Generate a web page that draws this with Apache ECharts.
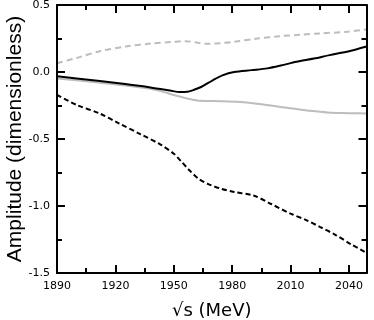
<!DOCTYPE html>
<html><head><meta charset="utf-8">
<script src="https://cdn.jsdelivr.net/npm/echarts@6/dist/echarts.min.js"></script>
<style>html,body{margin:0;padding:0;background:#fff}#c{width:374px;height:320px}</style>
</head><body><div id="c"></div>
<script>
const grayDashX = [1890,1900,1912,1925,1938,1950,1956,1961,1967,1974,1981,1992,2004,2015,2025,2039,2049];
const grayDashY = [0.065,0.105,0.155,0.19,0.212,0.225,0.23,0.222,0.21,0.215,0.226,0.248,0.267,0.278,0.288,0.300,0.318];
const blackSolidX = [1890,1900,1912,1925,1938,1948,1953,1957,1960,1964,1970,1975,1981,1990,1998,2005,2013,2022,2030,2040,2049];
const blackSolidY = [-0.031,-0.048,-0.068,-0.09,-0.115,-0.138,-0.15,-0.148,-0.135,-0.112,-0.062,-0.025,0.0,0.014,0.027,0.048,0.076,0.1,0.126,0.155,0.19];
const graySolidX = [1890,1900,1912,1925,1938,1945,1950,1956,1962,1970,1984,1995,2005,2012,2020,2029,2040,2049];
const graySolidY = [-0.048,-0.062,-0.08,-0.1,-0.125,-0.15,-0.172,-0.195,-0.212,-0.217,-0.223,-0.24,-0.262,-0.275,-0.29,-0.302,-0.307,-0.31];
const blackDashX = [1890,1900,1912,1922,1933,1943,1950,1954,1958,1963,1968,1974,1981,1991,2000,2010,2018,2025,2033,2041,2049];
const blackDashY = [-0.17,-0.245,-0.31,-0.385,-0.465,-0.54,-0.61,-0.67,-0.733,-0.8,-0.838,-0.87,-0.895,-0.922,-0.985,-1.057,-1.105,-1.155,-1.215,-1.285,-1.35];
const xTicks = [1890,1920,1950,1980,2010,2040];
const yTicks = [0.5,0.0,-0.5,-1.0,-1.5];

const pairs = (xs, ys) => xs.map((x,i)=>[x, ys[i]]);
const chart = echarts.init(document.getElementById('c'), null, {renderer:'canvas'});
const font = '"Liberation Sans", Arial, Helvetica, sans-serif';
const tickFont = '"DejaVu Sans", sans-serif';
const mkLine = () => ({show:true, onZero:false, lineStyle:{color:'#000', width:2}});
const mkTick = () => ({show:true, inside:true, length:8, lineStyle:{color:'#000', width:2}});
const mkMinor = () => ({show:true, splitNumber:2, length:5, lineStyle:{color:'#000', width:2}});
chart.setOption({
  animation:false,
  backgroundColor:'#fff',
  grid:{left:57, right:7.5, top:5, bottom:47, containLabel:false, outerBoundsMode:'none'},
  xAxis:[{
    type:'value', min:1890, max:2049, interval:30, position:'bottom', z:10,
    name:'√s (MeV)', nameLocation:'middle', nameGap:29,
    nameTextStyle:{fontFamily:tickFont, fontSize:18, color:'#000'},
    axisLine:mkLine(), axisTick:mkTick(), minorTick:mkMinor(), splitLine:{show:false},
    axisLabel:{fontFamily:tickFont, fontSize:11, color:'#000', margin:8, showMinLabel:true, showMaxLabel:false,
      formatter:v=> xTicks.includes(v) ? String(v) : ''}
  },{
    type:'value', min:1890, max:2049, interval:30, position:'top', z:10,
    axisLine:mkLine(), axisTick:mkTick(), minorTick:mkMinor(), splitLine:{show:false}, axisLabel:{show:false}
  }],
  yAxis:[{
    type:'value', min:-1.5, max:0.5, interval:0.5, position:'left', z:10,
    name:'Amplitude (dimensionless)', nameLocation:'middle', nameGap:31, nameMoveOverlap:false,
    nameTextStyle:{fontFamily:font, fontSize:21, color:'#000'},
    axisLine:mkLine(), axisTick:mkTick(), minorTick:mkMinor(), splitLine:{show:false},
    axisLabel:{fontFamily:tickFont, fontSize:11, color:'#000', margin:7,
      formatter:v=> yTicks.some(t=>Math.abs(t-v)<1e-9) ? v.toFixed(1) : ''}
  },{
    type:'value', min:-1.5, max:0.5, interval:0.5, position:'right', z:10,
    axisLine:mkLine(), axisTick:mkTick(), minorTick:mkMinor(), splitLine:{show:false}, axisLabel:{show:false}
  }],
  series:[
    {type:'line', data:pairs(grayDashX, grayDashY), smooth:0.3, showSymbol:false,
      lineStyle:{color:'#bdbdbd', width:2, type:[6,4]}},
    {type:'line', data:pairs(graySolidX, graySolidY), smooth:0.3, showSymbol:false,
      lineStyle:{color:'#bdbdbd', width:2}},
    {type:'line', data:pairs(blackSolidX, blackSolidY), smooth:0.3, showSymbol:false,
      lineStyle:{color:'#000', width:2}},
    {type:'line', data:pairs(blackDashX, blackDashY), smooth:0.3, showSymbol:false,
      lineStyle:{color:'#000', width:2, type:[5,3]}}
  ]
});
</script></body></html>
